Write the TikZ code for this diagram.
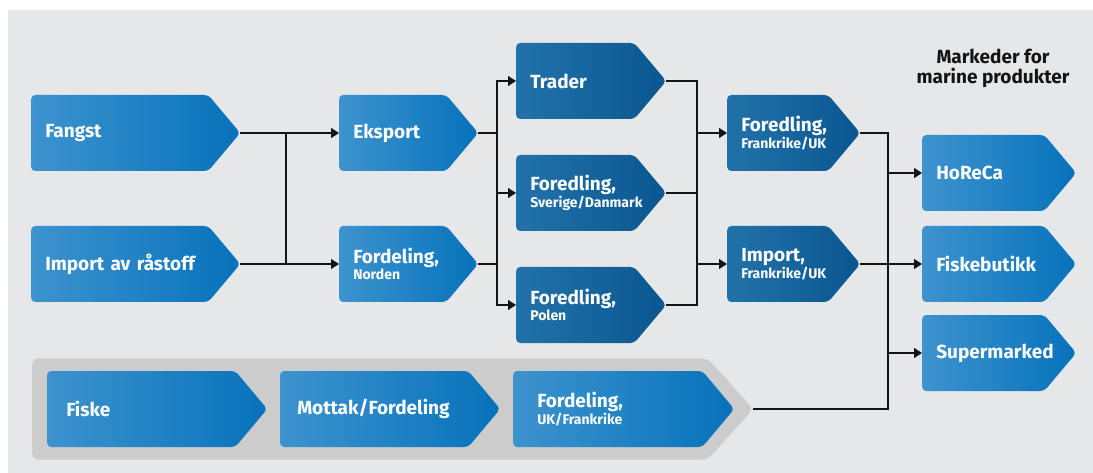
\documentclass[tikz,border=0pt]{standalone}
\usepackage{xcolor}
\usepackage{fontspec}
\setmainfont{Fira Sans}
\usetikzlibrary{shapes.symbols,arrows.meta}

\newcommand{\subtext}[1]{\\{\fontsize{14}{14}\selectfont #1}}

\begin{document}
\begin{tikzpicture}[x=1pt,y=-1pt]
% Define colours
\definecolor{bgcol}{RGB}{230,231,233}
\definecolor{bandcol}{RGB}{204,204,204}
\definecolor{lightleft}{RGB}{61,147,206}
\definecolor{lightright}{RGB}{6,114,187}
\definecolor{darkleft}{RGB}{34,114,170}
\definecolor{darkright}{RGB}{10,86,144}
\definecolor{linecol}{RGB}{20,20,20}

% Box styles (total width in pt as argument, pointer about 32pt deep)
\tikzset{
  flowbox/.style={signal, signal to=east, signal pointer angle=100, rounded corners=4pt,
    minimum height=76pt, minimum width=#1pt, text width=\the\dimexpr#1pt-60pt\relax,
    inner xsep=14pt, align=left, text=white, anchor=west,
    font=\fontsize{19}{14}\selectfont\bfseries},
  lightbox/.style={flowbox=#1, left color=lightleft, right color=lightright},
  darkbox/.style={flowbox=#1, left color=darkleft, right color=darkright},
  conn/.style={draw=linecol, line width=1.4pt},
  arr/.style={conn, -{Triangle[length=8pt,width=10pt]}}
}

% Background
\useasboundingbox (0,0) rectangle (1093,473);
\fill[bgcol] (8,10) rectangle (1093,473);

% Grey band behind the bottom row
\node[signal, signal to=east, signal pointer angle=96, rounded corners=6pt, fill=bandcol,
  minimum width=721pt, minimum height=101pt, anchor=west] (band) at (32,409) {};

% Boxes
\node[lightbox=209] (fangst) at (31,133) {Fangst};
\node[lightbox=209] (import) at (31,264) {\mbox{Import av råstoff}};
\node[lightbox=139] (eksport) at (339,133) {Eksport};
\node[lightbox=139] (norden) at (339,264) {Fordeling,\subtext{Norden}};
\node[darkbox=150] (trader) at (516,81) {Trader};
\node[darkbox=150] (sverige) at (516,193) {Foredling,\subtext{Sverige/Danmark}};
\node[darkbox=150] (polen) at (516,305) {Foredling,\subtext{Polen}};
\node[darkbox=133] (forfr) at (727,133) {Foredling,\subtext{Frankrike/UK}};
\node[darkbox=133] (impfr) at (727,264) {Import,\subtext{Frankrike/UK}};
\node[lightbox=154] (horeca) at (922,173) {HoReCa};
\node[lightbox=154] (fiskebutikk) at (922,264) {Fiskebutikk};
\node[lightbox=154] (supermarked) at (922,353) {Supermarked};
\node[lightbox=220, inner xsep=19pt, text width=150pt] (fiske) at (47,409) {Fiske};
\node[lightbox=220, inner xsep=17pt, text width=154pt] (mottak) at (280,409) {Mottak/Fordeling};
\node[lightbox=221, inner xsep=24pt, text width=141pt] (fordelinguk) at (513,409) {Fordeling,\subtext{UK/Frankrike}};

% Title
\node[font=\fontsize{19}{20}\selectfont\bfseries, align=center, text=linecol] (title)
  at (993,68) {Markeder for\\marine produkter};

% Junction columns
\coordinate (j1) at (286,0);
\coordinate (j2) at (497,0);
\coordinate (j3) at (697,0);
\coordinate (j4) at (888,0);

% Connectors
\draw[conn] (fangst.east) -| (j1 |- import.east) -- (import.east);
\draw[arr] (j1 |- fangst.east) -- (eksport.west);
\draw[arr] (j1 |- import.east) -- (norden.west);

\draw[conn] (eksport.east) -- (j2 |- eksport.east);
\draw[conn] (norden.east) -- (j2 |- norden.east);
\draw[arr] (j2 |- sverige.west) |- (trader.west);
\draw[arr] (j2 |- sverige.west) |- (polen.west);
\draw[arr] (j2 |- sverige.west) -- (sverige.west);

\draw[conn] (trader.east) -| (j3 |- polen.east) -- (polen.east);
\draw[conn] (sverige.east) -- (j3 |- sverige.east);
\foreach \n in {forfr,impfr}
  \draw[arr] (j3 |- \n.west) -- (\n.west);

\draw[conn] (forfr.east) -| (j4 |- band.east) -- (band.east);
\draw[conn] (impfr.east) -- (j4 |- impfr.east);
\foreach \n in {horeca,fiskebutikk,supermarked}
  \draw[arr] (j4 |- \n.west) -- (\n.west);
\end{tikzpicture}
\end{document}
